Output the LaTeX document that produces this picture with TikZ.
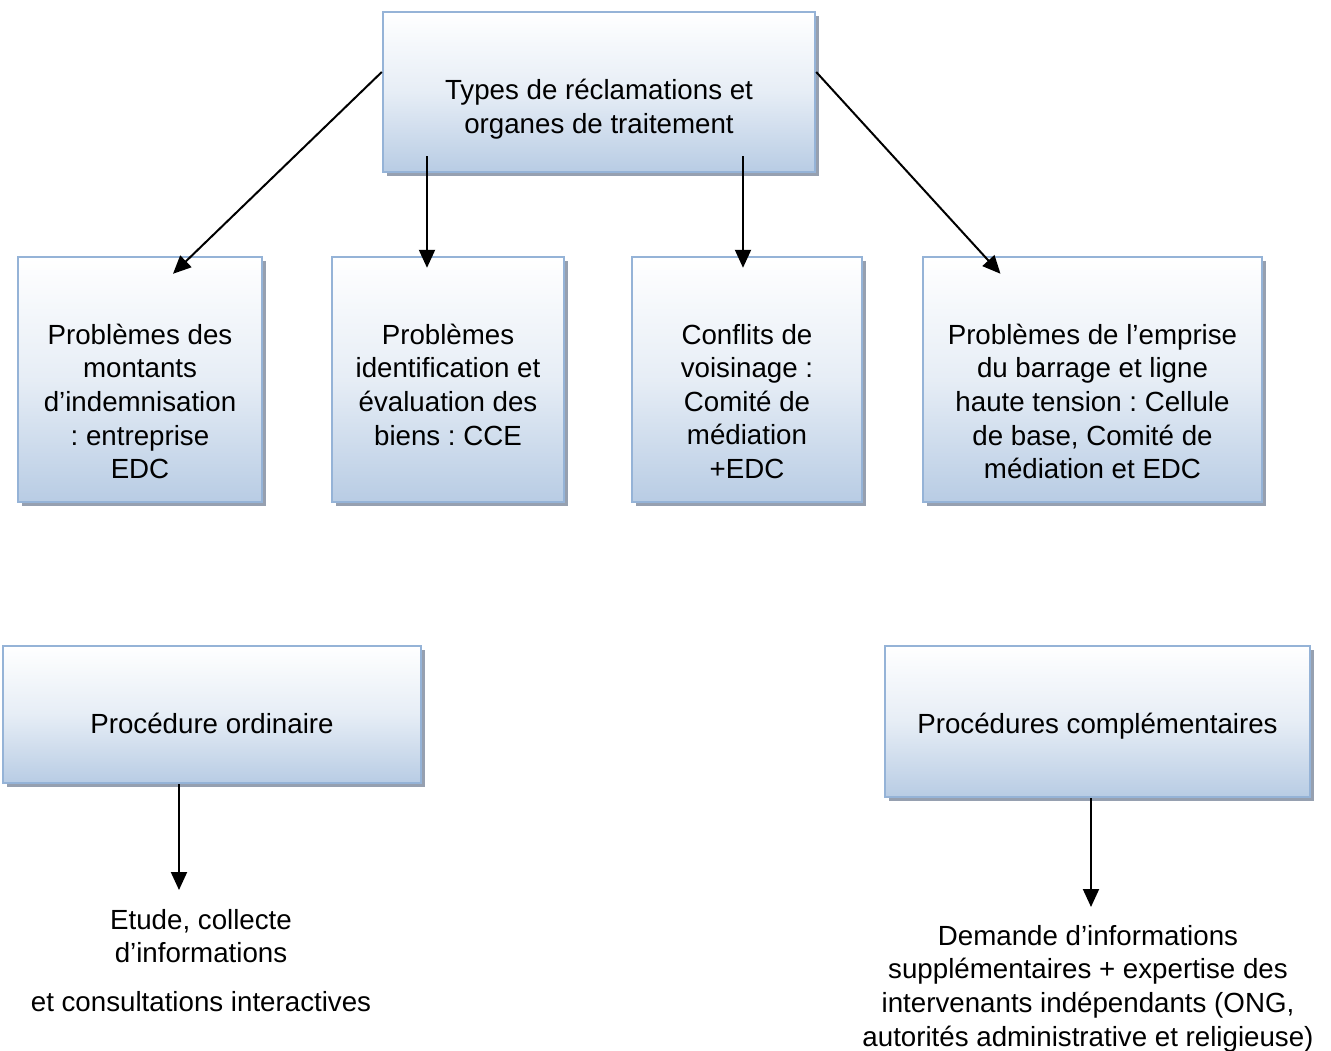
\documentclass[tikz,border=0pt]{standalone}
\usepackage{fontspec}
\setmainfont{Liberation Sans}
\usetikzlibrary{arrows.meta,shadows}
\definecolor{boxline}{RGB}{149,179,215}
\definecolor{boxblue}{RGB}{184,204,228}
\definecolor{shadowgray}{RGB}{150,160,176}
\frenchspacing
\begin{document}
\begin{tikzpicture}[x=1pt, y=-1pt,
		every node/.style={font=\fontsize{27.7}{33.6}\selectfont},
		box/.style={draw=boxline, line width=2.4pt, top color=white, bottom color=boxblue,
			middle color=boxblue!35,
			drop shadow={shadow xshift=4pt, shadow yshift=-4pt, fill=shadowgray, opacity=1}},
		txt/.style={align=center, inner sep=0pt},
		arr/.style={line width=2pt, -{Triangle[length=18pt,width=16pt]}}]
			\useasboundingbox (0,0) rectangle (1331,1051);
			
			% boxes
			\node[box, minimum width=432pt, minimum height=160pt] (top) at (599,92) {};
			\node[box, minimum width=244pt, minimum height=245pt] (b1) at (140,379.5) {};
			\node[box, minimum width=232pt, minimum height=245pt] (b2) at (448,379.5) {};
			\node[box, minimum width=230pt, minimum height=245pt] (b3) at (747,379.5) {};
			\node[box, minimum width=339pt, minimum height=245pt] (b4) at (1092.5,379.5) {};
			\node[box, minimum width=418pt, minimum height=137pt] (ord) at (212,714.5) {};
			\node[box, minimum width=425pt, minimum height=151pt] (comp) at (1097.5,721.5) {};
			
			% texts
			\node[txt] (ttop) at ([yshift=-17pt]top.center) {Types de réclamations et\\organes de traitement};
			\node[txt, anchor=north] (t1) at ([yshift=-68pt]b1.north) {Problèmes des\\montants\\d’indemnisation\\: entreprise\\EDC};
			\node[txt, anchor=north] (t2) at ([yshift=-68pt]b2.north) {Problèmes\\identification et\\évaluation des\\biens : CCE};
			\node[txt, anchor=north] (t3) at ([yshift=-68pt]b3.north) {Conflits de\\voisinage :\\Comité de\\médiation\\+EDC};
			\node[txt, anchor=north] (t4) at ([yshift=-68pt]b4.north) {Problèmes de l’emprise\\du barrage et ligne\\haute tension : Cellule\\de base, Comité de\\médiation et EDC};
			\node[txt] (tord) at ([yshift=-8.5pt]ord.center) {Procédure ordinaire};
			\node[txt] (tcomp) at ([yshift=-4.5pt]comp.center) {Procédures complémentaires};
			\node[txt, anchor=north] (etude) at (201,909) {Etude, collecte\\d’informations\\[15pt]et consultations interactives};
			\node[txt, anchor=north] (demande) at (1088,925) {Demande d’informations\\supplémentaires + expertise des\\intervenants indépendants (ONG,\\autorités administrative et religieuse)};
			
			% arrows
			\coordinate (e1) at ([xshift=-33pt]ord.south |- 0,890);
			\coordinate (e2) at ([xshift=-6.5pt]comp.south |- 0,907);
			\draw[arr] ([yshift=20pt]top.west) -- ([xshift=33pt,yshift=-18pt]b1.north);
			\draw[arr] ([xshift=-172pt,yshift=17pt]top.south) -- ([xshift=-21pt,yshift=-12pt]b2.north);
			\draw[arr] ([xshift=144pt,yshift=17pt]top.south) -- ([xshift=-4pt,yshift=-12pt]b3.north);
			\draw[arr] ([yshift=20pt]top.east) -- ([xshift=-92pt,yshift=-18pt]b4.north);
			\draw[arr] ([xshift=-33pt]ord.south) -- (e1);
			\draw[arr] ([xshift=-6.5pt]comp.south) -- (e2);
		\end{tikzpicture}
\end{document}
